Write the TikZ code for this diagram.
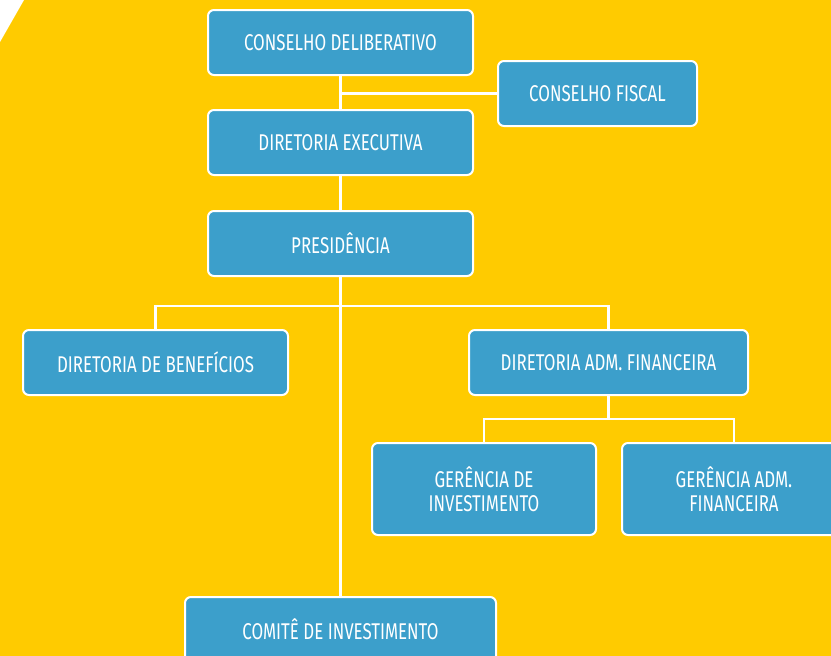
\documentclass[tikz,border=0pt]{standalone}
\usepackage{fontspec}
\setmainfont{Fira Sans}[FakeStretch=0.74]
\usepackage{tikz}
\definecolor{fundo}{RGB}{255,203,0}
\definecolor{caixa}{RGB}{60,159,203}
\tikzset{
  caixa/.style={draw=white,line width=2pt,fill=caixa,rounded corners=6pt,text=white,
    align=center,minimum height=65,inner sep=0pt,font=\fontsize{22.8}{24}\selectfont},
  liga/.style={draw=white,line width=2.6pt}
}

\begin{document}
\begin{tikzpicture}[line cap=rect,line join=miter,x=1pt,y=1pt]
    \useasboundingbox (0,0) rectangle (831,-656);
    \clip (0,0) rectangle (831,-656);
    \fill[fundo] (0,0) rectangle (831,-656);
    \fill[white] (0,0) -- (24,0) -- (0,-42) -- cycle;
    % caixas
    \node[caixa,minimum width=265] (cd) at (340.5,-42.5) {CONSELHO DELIBERATIVO};
    \node[caixa,minimum width=199] (cf) at (597.5,-93.5) {CONSELHO FISCAL};
    \node[caixa,minimum width=265] (de) at (340.5,-142.5) {DIRETORIA EXECUTIVA};
    \node[caixa,minimum width=265] (pr) at (340.5,-243.5) {PRESIDÊNCIA};
    \node[caixa,minimum width=265] (db) at (155.5,-362.5) {DIRETORIA DE BENEFÍCIOS};
    \node[caixa,minimum width=279] (daf) at (608.5,-362.5) {DIRETORIA ADM. FINANCEIRA};
    \node[caixa,minimum width=224,minimum height=92] (gi) at (484,-489) {GERÊNCIA DE\\INVESTIMENTO};
    \node[caixa,minimum width=224,minimum height=92] (ga) at (734,-489) {GERÊNCIA ADM.\\FINANCEIRA};
    \node[caixa,minimum width=311] (ci) at (340.5,-629.5) {COMITÊ DE INVESTIMENTO};
    % ligacoes
    \coordinate (s1) at (340.5,-306);
    \coordinate (s2) at (608.5,-419);
    \draw[liga] (cd.south) -- (de.north);
    \draw[liga] (cf.west) -- (cf.west -| cd.south);
    \draw[liga] (de.south) -- (pr.north);
    \draw[liga] (pr.south) -- (ci.north);
    \draw[liga] (db.north) |- (s1) -| (daf.north);
    \draw[liga] (daf.south) -- (s2);
    \draw[liga] (gi.north) |- (s2) -| (ga.north);
  \end{tikzpicture}
\end{document}
